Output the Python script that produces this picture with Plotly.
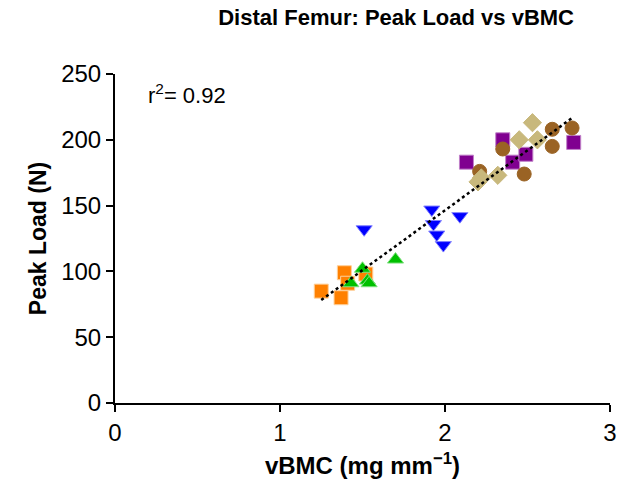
import numpy as np
import plotly.graph_objects as go

# ---- data ----
orange_x = [1.25, 1.39, 1.41, 1.37, 1.52]
orange_y = [85, 99, 91, 80, 98]

green_x = [1.43, 1.50, 1.53, 1.54, 1.70]
green_y = [91, 102, 93, 91, 109]

blue_x = [1.51, 1.92, 1.93, 1.95, 1.99, 2.09]
blue_y = [132, 147, 136, 128, 120, 142]

purple_x = [2.13, 2.35, 2.41, 2.49, 2.78]
purple_y = [183, 200, 183, 189, 198]

brown_x = [2.65, 2.77, 2.65, 2.35, 2.21, 2.48]
brown_y = [208, 209, 195, 193, 176, 174]

beige_x = [2.53, 2.45, 2.56, 2.22, 2.20, 2.32]
beige_y = [213, 200, 200, 171, 168, 173]

r2_label = "r<sup>2</sup>= 0.92"
x_ticks = [0, 1, 2, 3]
y_ticks = [0, 50, 100, 150, 200, 250]

FONT = "Liberation Sans, Arial, sans-serif"

groups = [
    (orange_x, orange_y, "square", "#FF8000", "#FFD09A"),
    (green_x, green_y, "triangle-up", "#00C000", "#7FE07F"),
    (blue_x, blue_y, "triangle-down", "#0000FF", "#8080FF"),
    (purple_x, purple_y, "square", "#800090", "#C080C8"),
    (brown_x, brown_y, "circle", "#9A6324", "#9A6324"),
    (beige_x, beige_y, "diamond", "#C8B87C", "#C8B87C"),
]

fig = go.Figure()
for gx, gy, sym, col, lc in groups:
    fig.add_trace(go.Scatter(
        x=gx, y=gy, mode="markers",
        marker=dict(symbol=sym, size=14, color=col, line=dict(width=1, color=lc)),
        showlegend=False, hoverinfo="skip",
    ))

# regression line over data range
all_x = np.array(orange_x + green_x + blue_x + purple_x + brown_x + beige_x)
all_y = np.array(orange_y + green_y + blue_y + purple_y + brown_y + beige_y)
slope, intercept = np.polyfit(all_x, all_y, 1)
lx = np.array([all_x.min(), all_x.max()])
fig.add_trace(go.Scatter(
    x=lx, y=slope * lx + intercept, mode="lines",
    line=dict(color="black", width=2.5, dash="dot"),
    showlegend=False, hoverinfo="skip",
))

fig.add_annotation(
    x=0.19, y=235, xref="x", yref="y", text=r2_label, showarrow=False,
    xanchor="left", yanchor="middle", font=dict(family=FONT, size=22, color="black"),
)

axis_common = dict(
    showgrid=False, zeroline=False, showline=True, linecolor="black", linewidth=2,
    ticks="outside", ticklen=7, tickwidth=2, tickcolor="black",
    tickfont=dict(family=FONT, size=24, color="black"),
    automargin=False,
)

fig.update_layout(
    width=617, height=482,
    margin=dict(l=115, r=7, t=74, b=79),
    paper_bgcolor="white", plot_bgcolor="white",
    hovermode=False,
    title=dict(
        text="<b>Distal Femur: Peak Load vs vBMC</b>",
        x=0.642, xref="container", xanchor="center", y=0.964, yref="container", yanchor="middle",
        font=dict(family=FONT, size=22, color="black"),
    ),
    xaxis=dict(range=[0, 3], tickvals=x_ticks,
               title=dict(text="<b>vBMC (mg mm<sup>−1</sup>)</b>",
                          font=dict(family=FONT, size=24, color="black"), standoff=12),
               **axis_common),
    yaxis=dict(range=[0, 250], tickvals=y_ticks,
               title=dict(text="<b>Peak Load (N)</b>",
                          font=dict(family=FONT, size=23, color="black"), standoff=8),
               **axis_common),
)

fig.write_html(
    "out.html",
    config={"displayModeBar": False, "staticPlot": True},
    post_script="document.body.style.margin='0';document.body.style.overflow='hidden';",
)
